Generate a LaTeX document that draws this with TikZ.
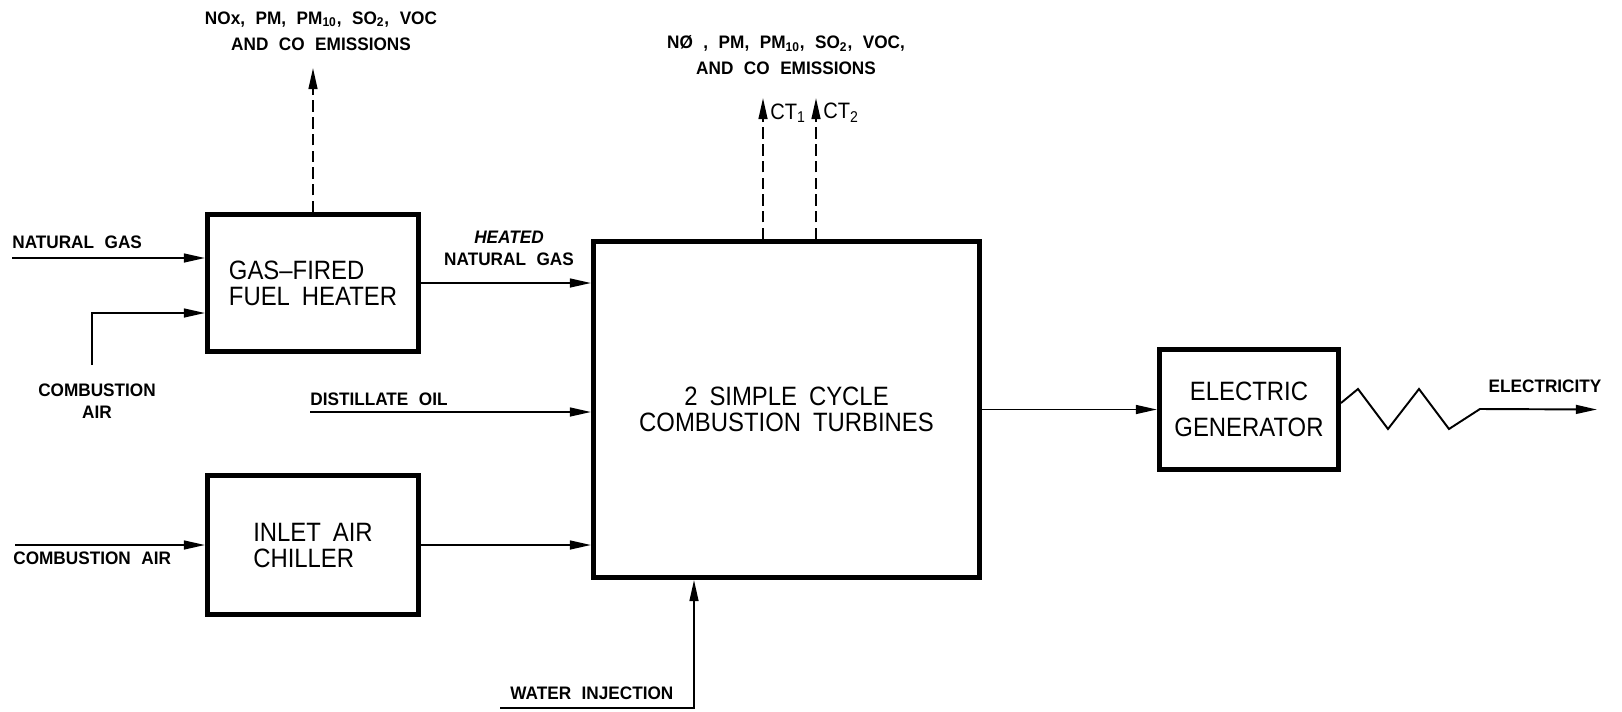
\documentclass[tikz,border=0pt]{standalone}
\usepackage{fontspec}
\newfontfamily\unitfont[FakeStretch=0.9, WordSpace=1.8]{Liberation Sans}
\newfontfamily\tagfont[FakeStretch=0.95, WordSpace=2.2]{Liberation Sans}
\usetikzlibrary{arrows.meta,positioning,calc}

\begin{document}
\begin{tikzpicture}[
  x=0.2mm, y=-0.2mm,
  unit/.style={
    draw, line width=2.8pt, inner sep=0pt, align=left,
    font=\unitfont\fontsize{15.1}{14.8}\selectfont},
  lbl/.style={
    inner sep=0pt, align=center,
    font=\tagfont\bfseries\fontsize{10.3}{12.5}\selectfont},
  ctlbl/.style={
    inner sep=0pt, anchor=west,
    font=\unitfont\fontsize{12.7}{14}\selectfont},
  flow/.style={-{Triangle[length=12pt, width=5pt]}, line width=1.1pt},
  emis/.style={flow, dashed, dash pattern=on 6.5pt off 3pt},
]
\useasboundingbox (0,0) rectangle (1622,711);

% ================= process units ===================================
\node[unit, minimum width=42.2mm, minimum height=27.4mm] (heater) at (313,283)
  {GAS\textendash FIRED\\FUEL HEATER};
\node[unit, minimum width=42.2mm, minimum height=27.8mm] (chiller) at (313,545)
  {INLET AIR\\CHILLER};
\node[unit, align=center, minimum width=77.2mm, minimum height=67.2mm] (ct) at (786.5,409.5)
  {2 SIMPLE CYCLE\\COMBUSTION TURBINES};
\node[unit, align=center, minimum width=35.8mm, minimum height=24mm] (gen) at (1249,409.5)
  {ELECTRIC\\[6pt]GENERATOR};

% ================= free ends of the streams ========================
\coordinate (ngasin)  at (12,258);
\coordinate (cair1up) at (92,365);
\coordinate (cair1in) at (92,313);
\coordinate (oilin)   at (310,412);
\coordinate (cair2in) at (15,545);
\coordinate (waterin) at (500,708);
\coordinate (waterup) at (694,708);
\coordinate (hstack)  at (312,68);
\coordinate (ct1top)  at (763,98);
\coordinate (ct2top)  at (816,98);
\coordinate (elecout) at (1597,409.5);

% ================= stream labels ===================================
\node[lbl, anchor=west] (ngas) at (12,242) {NATURAL GAS};
\node[lbl] (cair1) at (97,401) {COMBUSTION\\AIR};
\node[lbl] (hgas) at (509,248) {{\itshape HEATED}\\NATURAL GAS};
\node[lbl, anchor=west] (oil) at (310,399) {DISTILLATE OIL};
\node[lbl, anchor=west] (cair2) at (13,558) {COMBUSTION AIR};
\node[lbl, anchor=west] (water) at (510,693) {WATER INJECTION};
\node[lbl] (elec) at (1545,386) {ELECTRICITY};
\node[lbl] (hemis) at (321,31)
  {NOx, PM, PM\textsubscript{10}, SO\textsubscript{2}, VOC\\[2.5pt]AND CO EMISSIONS};
\node[lbl] (ctemis) at (786,55)
  {N\O{} , PM, PM\textsubscript{10}, SO\textsubscript{2}, VOC,\\[2pt]AND CO EMISSIONS};
\node[ctlbl] (ct1) at (770,113) {CT\textsubscript{1}};
\node[ctlbl] (ct2) at (823,113) {CT\textsubscript{2}};

% ================= streams =========================================
\draw[flow] (ngasin) -- (heater.west |- ngasin);
\draw[flow] (cair1up) -- (cair1in) -- (heater.west |- cair1in);
\draw[flow] (heater.east) -- (ct.west |- heater.east);
\draw[flow] (oilin) -- (ct.west |- oilin);
\draw[flow] (cair2in) -- (chiller.west);
\draw[flow] (chiller.east) -- (ct.west |- chiller.east);
\draw[flow] (waterin) -- (waterup) -- (ct.south -| waterup);
\draw[flow] (ct.east) -- (gen.west |- ct.east);
% generator output, drawn as a zigzag
\draw[flow] ([yshift=1.3mm]gen.east) -- ++(17,-14) -- ++(30,40) -- ++(31,-40)
  -- ++(30,40) -- ++(31,-20) -- (elecout);

% ================= emissions =======================================
\draw[emis] (heater.north) -- (heater.north |- hstack);
\draw[emis] (ct.north -| ct1top) -- (ct1top);
\draw[emis] (ct.north -| ct2top) -- (ct2top);

\end{tikzpicture}
\end{document}
